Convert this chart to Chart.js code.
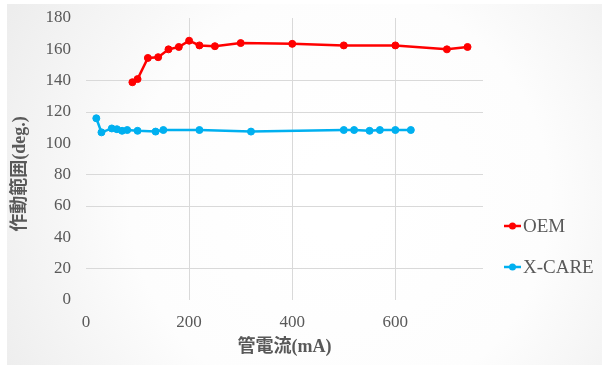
<!DOCTYPE html>
<html>
<head>
<meta charset="utf-8">
<script src="https://cdn.jsdelivr.net/npm/chart.js@4/dist/chart.umd.min.js"></script>
<style>
  html, body { margin: 0; padding: 0; background: #ffffff; }
  #wrap { position: relative; width: 602px; height: 365px; }
</style>
</head>
<body>
<div id="wrap"><canvas id="chart" width="602" height="365"></canvas></div>
<script>
// 管電流 (mA) vs 作動範囲 (deg.)
const oemCurrent   = [90, 100, 120, 140, 160, 180, 200, 220, 250, 300, 400, 500, 600, 700, 740];
const oemAngle     = [139, 141, 154.5, 155, 160, 161.5, 165.5, 162.5, 162, 164, 163.5, 162.5, 162.5, 160, 161.5];
const xcareCurrent = [20, 30, 50, 60, 70, 80, 100, 135, 150, 220, 320, 500, 520, 550, 570, 600, 630];
const xcareAngle   = [116, 107, 109.5, 109, 108, 108.5, 108, 107.5, 108.5, 108.5, 107.5, 108.5, 108.5, 108, 108.5, 108.5, 108.5];
const xTickValues  = [0, 200, 400, 600];
const seriesNames  = ['OEM', 'X-CARE'];
const seriesColors = ['#FF0000', '#00B0F0'];

const xAxisTitle = '管電流(mA)';
const yAxisTitle = '作動範囲(deg.)';

// grid lines that are shown on each axis
const yGridShown = [20, 60, 80, 120, 140];
const xGridShown = [200, 400, 600];

const TEXT_GREY = '#595959';
const GRID_GREY = '#d9d9d9';
const tickFont = { family: '"Liberation Serif", "Times New Roman", serif', size: 17 };

function toPoints(xs, ys) {
  return xs.map((x, i) => ({ x: x, y: ys[i] }));
}

const backgroundPlugin = {
  id: 'panelBackground',
  beforeDraw(chart) {
    const ctx = chart.ctx;
    ctx.save();
    ctx.fillStyle = '#ffffff';
    ctx.fillRect(0, 0, chart.width, chart.height);
    const g = ctx.createRadialGradient(340, 200, 40, 340, 200, 380);
    g.addColorStop(0, '#ffffff');
    g.addColorStop(0.5, '#fdfdfd');
    g.addColorStop(1, '#ededed');
    ctx.fillStyle = g;
    ctx.fillRect(7, 4, chart.width - 7, chart.height - 4);
    ctx.restore();
  }
};

const titlesAndLegendPlugin = {
  id: 'titlesAndLegend',
  afterDraw(chart) {
    const ctx = chart.ctx;
    const area = chart.chartArea;
    ctx.save();
    ctx.fillStyle = TEXT_GREY;
    ctx.font = 'bold 18px "Liberation Serif", "Noto Sans CJK JP", serif';
    ctx.textAlign = 'center';
    ctx.textBaseline = 'middle';
    // x axis title
    ctx.fillText(xAxisTitle, (area.left + area.right) / 2, 347);
    // y axis title
    ctx.save();
    ctx.translate(20, 174);
    ctx.rotate(-Math.PI / 2);
    ctx.fillText(yAxisTitle, 0, 0);
    ctx.restore();

    // legend
    ctx.font = '19px "Liberation Serif", "Times New Roman", serif';
    ctx.textAlign = 'left';
    const rows = [226, 267];
    chart.data.datasets.forEach((ds, i) => {
      const y = rows[i];
      ctx.strokeStyle = ds.borderColor;
      ctx.lineWidth = 2.5;
      ctx.beginPath();
      ctx.moveTo(504, y);
      ctx.lineTo(521, y);
      ctx.stroke();
      ctx.fillStyle = ds.backgroundColor;
      ctx.beginPath();
      ctx.arc(512.5, y, 3.5, 0, Math.PI * 2);
      ctx.fill();
      ctx.fillStyle = TEXT_GREY;
      ctx.fillText(ds.label, 523, y + 1);
    });
    ctx.restore();
  }
};

const datasets = [
  { label: seriesNames[0], data: toPoints(oemCurrent, oemAngle) },
  { label: seriesNames[1], data: toPoints(xcareCurrent, xcareAngle) }
].map((ds, i) => Object.assign(ds, {
  borderColor: seriesColors[i],
  backgroundColor: seriesColors[i],
  pointBackgroundColor: seriesColors[i],
  pointBorderColor: seriesColors[i],
  borderWidth: 2.5,
  pointRadius: 3.5,
  pointBorderWidth: 1,
  tension: 0,
  showLine: true,
  fill: false
}));

new Chart(document.getElementById('chart'), {
  type: 'scatter',
  data: { datasets: datasets },
  options: {
    responsive: false,
    animation: false,
    devicePixelRatio: 1,
    layout: { padding: { left: 8, right: 119, top: 18, bottom: 5 } },
    plugins: {
      legend: { display: false },
      tooltip: { enabled: false }
    },
    scales: {
      x: {
        type: 'linear',
        min: 0,
        max: 770,
        afterBuildTicks(scale) {
          scale.ticks = xTickValues.map(v => ({ value: v }));
        },
        afterFit(scale) {
          scale.height = 60;
          scale.paddingLeft = 0;
          scale.paddingRight = 0;
        },
        border: { display: false },
        grid: {
          drawTicks: false,
          lineWidth: 1,
          color: ctx => (ctx.tick && xGridShown.includes(ctx.tick.value)) ? GRID_GREY : 'rgba(0,0,0,0)'
        },
        ticks: {
          color: TEXT_GREY,
          font: tickFont,
          padding: 12,
          maxRotation: 0
        }
      },
      y: {
        min: 0,
        max: 180,
        afterFit(scale) {
          scale.width = 78;
          scale.paddingTop = 0;
          scale.paddingBottom = 0;
        },
        border: { display: false },
        grid: {
          drawTicks: false,
          lineWidth: 1,
          color: ctx => (ctx.tick && yGridShown.includes(ctx.tick.value)) ? GRID_GREY : 'rgba(0,0,0,0)'
        },
        ticks: {
          stepSize: 20,
          color: TEXT_GREY,
          font: tickFont,
          padding: 15
        }
      }
    }
  },
  plugins: [backgroundPlugin, titlesAndLegendPlugin]
});
</script>
</body>
</html>
